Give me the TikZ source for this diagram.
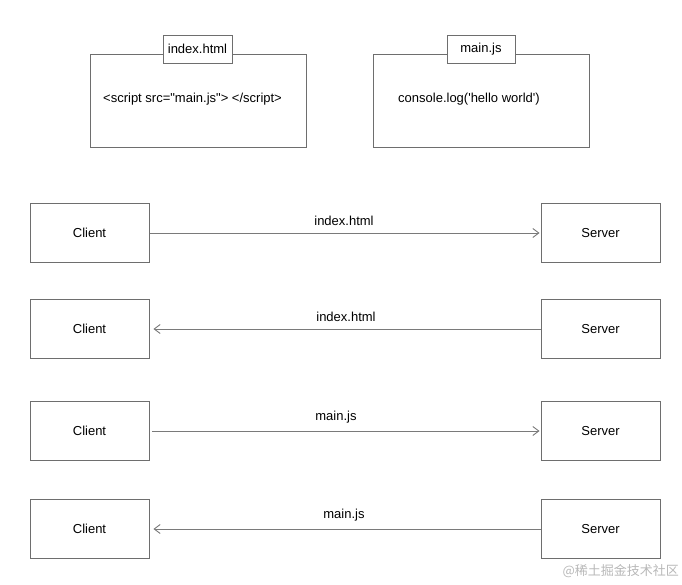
\documentclass[tikz,border=0pt]{standalone}
\usepackage{fontspec}
\setmainfont{Liberation Sans}
\newfontfamily\plainfont{Liberation Sans}
\newfontfamily\cjkfont{Noto Sans CJK SC}
\usetikzlibrary{arrows.meta}
\definecolor{boxline}{HTML}{6E6E6E}
\definecolor{arrline}{HTML}{7A7A7A}
\definecolor{wm}{HTML}{B8B8B8}
\tikzset{
  box/.style={draw=boxline, line width=0.9pt, fill=white, inner sep=0pt},
  lbl/.style={font=\plainfont\fontsize{13}{15}\selectfont, inner sep=0pt},
  conn/.style={draw=arrline, line width=0.9pt, -{Straight Barb[length=6pt,width=9pt,line width=0.9pt]}},
}
\begin{document}
\begin{tikzpicture}[x=1pt,y=-1pt]
\useasboundingbox (0,0) rectangle (682,585);
% file boxes
\node[box, minimum width=216pt, minimum height=93pt] (f1) at (198,100.5) {};
\node[box, minimum width=69pt, minimum height=28pt, lbl] (t1) at (197.5,49) {index.html};
\node[lbl, anchor=west] (c1) at (103,99) {<script src="main.js"> </script>};
\node[box, minimum width=216pt, minimum height=93pt] (f2) at (481,100.5) {};
\node[box, minimum width=68pt, minimum height=28pt, lbl] (t2) at (481,49) {main.js};
\node[lbl, anchor=west] (c2) at (398,99) {console.log('hello world')};
% client / server rows
\foreach \i/\y in {1/233, 2/329, 3/431, 4/529}{
  \node[box, minimum width=119pt, minimum height=59pt, lbl] (cl\i) at (89.5,\y) {\raisebox{-1pt}{Client}};
  \node[box, minimum width=119pt, minimum height=59pt, lbl] (sv\i) at (600.5,\y) {\raisebox{-1pt}{Server}};
}
\draw[conn] ([xshift=1pt]cl1.east) -- ([xshift=-1pt]sv1.west) node[lbl, midway, above=7pt, xshift=-1pt] (m1) {index.html};
\draw[conn] (sv2.west) -- ([xshift=4pt]cl2.east) node[lbl, midway, above=7pt, xshift=-1pt] (m2) {index.html};
\draw[conn] ([xshift=3pt]cl3.east) -- ([xshift=-1pt]sv3.west) node[lbl, midway, above=7pt, xshift=-10pt] (m3) {main.js};
\draw[conn] (sv4.west) -- ([xshift=4pt]cl4.east) node[lbl, midway, above=7pt, xshift=-3pt] (m4) {main.js};
% watermark
\node[text=wm, font=\cjkfont\fontsize{13}{15}\selectfont, anchor=east, inner sep=0pt] (wmk) at (679,571) {@稀土掘金技术社区};
\end{tikzpicture}
\end{document}
